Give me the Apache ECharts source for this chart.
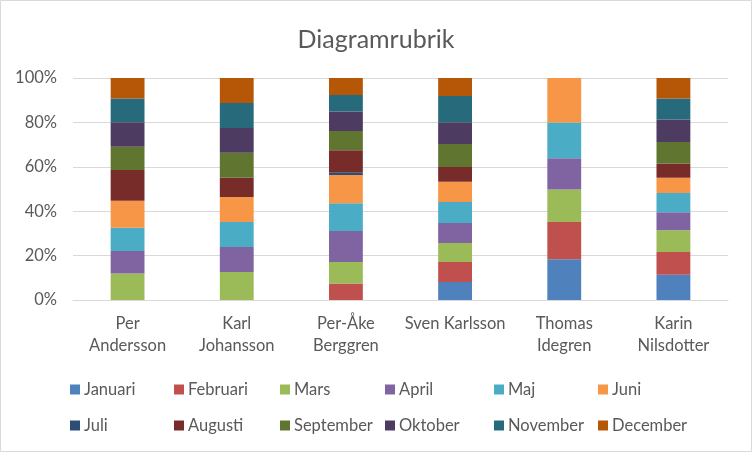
<!DOCTYPE html>
<html>
<head>
<meta charset="utf-8">
<script src="https://cdn.jsdelivr.net/npm/echarts@6/dist/echarts.min.js"></script>
<style>
  html, body { margin: 0; padding: 0; background: #fff; }
  #chart { width: 752px; height: 452px; }
</style>
</head>
<body>
<div id="chart"></div>
<script>
// kategorier (personer)
const persons = ["Per\nAndersson", "Karl\nJohansson", "Per-Åke\nBerggren", "Sven Karlsson", "Thomas\nIdegren", "Karin\nNilsdotter"];
const months = ["Januari", "Februari", "Mars", "April", "Maj", "Juni", "Juli", "Augusti", "September", "Oktober", "November", "December"];
const yTicks = [0, 20, 40, 60, 80, 100];

// andel per månad (avläst i procent), en rad per månad, en kolumn per person
const januari   = [0,    0,    0,    8.1,  18.3, 11.4];
const februari  = [0,    0,    7.4,  9.0,  16.8, 10.2];
const mars      = [11.9, 12.6, 9.8,  8.6,  14.7, 9.9];
const april     = [10.2, 11.3, 14.0, 9.0,  14.1, 8.1];
const maj       = [10.5, 11.3, 12.5, 9.5,  16.1, 8.6];
const juni      = [12.2, 11.3, 12.8, 9.2,  20.0, 6.9];
const juli      = [0,    0,    1.2,  0,    0,    0];
const augusti   = [13.8, 8.7,  10.0, 6.6,  0,    6.5];
const september = [10.5, 11.3, 8.6,  10.4, 0,    9.6];
const oktober   = [11.0, 11.1, 8.9,  9.8,  0,    10.2];
const november  = [10.8, 11.3, 7.4,  11.9, 0,    9.5];
const december  = [9.2,  11.3, 7.7,  8.1,  0,    9.2];

const monthData = [januari, februari, mars, april, maj, juni, juli, augusti, september, oktober, november, december];
const colors = ["#4F81BD", "#C0504D", "#9BBB59", "#8064A2", "#4BACC6", "#F79646",
                "#2C4D75", "#772C2A", "#5F7530", "#4D3B62", "#276A7C", "#B65708"];

// summera per person så att staplarna blir 100 %
const totals = persons.map((p, i) => monthData.reduce((s, arr) => s + arr[i], 0));

const font = "Lato, 'Liberation Sans', sans-serif";
const textColor = "#595959";
const fontSize = 16.5;

const chart = echarts.init(document.getElementById("chart"));

// legenden i fasta kolumner (6 per rad), som i Excel
const legendCols = [70, 174, 280, 385, 494, 598];
const legendRows = [381, 417];
const legends = months.map((m, k) => ({
  left: legendCols[k % 6],
  top: legendRows[Math.floor(k / 6)],
  padding: 0,
  itemWidth: 10,
  itemHeight: 10,
  itemGap: 5,
  icon: "rect",
  data: [m],
  textStyle: { color: textColor, fontSize: fontSize, fontFamily: font, padding: [0, 0, 0, -1] },
}));

const option = {
  animation: false,
  color: colors,
  title: {
    text: "Diagramrubrik",
    left: "center",
    top: 22,
    textStyle: { color: textColor, fontSize: 25, fontWeight: "normal", fontFamily: font },
  },
  graphic: [{
    type: "rect",
    shape: { x: 0.5, y: 0.5, width: 751, height: 451 },
    style: { fill: "none", stroke: "#D9D9D9", lineWidth: 1 },
  }],
  grid: { left: 73, right: 24, top: 78, bottom: 152 },
  legend: legends,
  xAxis: {
    type: "category",
    data: persons,
    axisLine: { lineStyle: { color: "#D9D9D9" } },
    axisTick: { show: false },
    axisLabel: { color: textColor, fontSize: fontSize, fontFamily: font, lineHeight: 22, margin: 13, interval: 0 },
  },
  yAxis: {
    type: "value",
    min: yTicks[0],
    max: yTicks[yTicks.length - 1],
    interval: yTicks[1] - yTicks[0],
    axisLine: { show: false },
    axisTick: { show: false },
    splitLine: { lineStyle: { color: "#D9D9D9" } },
    axisLabel: { color: textColor, fontSize: fontSize, fontFamily: font, margin: 16, formatter: "{value}%" },
  },
  series: months.map((m, k) => ({
    name: m,
    type: "bar",
    stack: "total",
    barWidth: "31%",
    data: monthData[k].map((v, i) => (v / totals[i]) * 100),
  })),
};

chart.setOption(option);
</script>
</body>
</html>
